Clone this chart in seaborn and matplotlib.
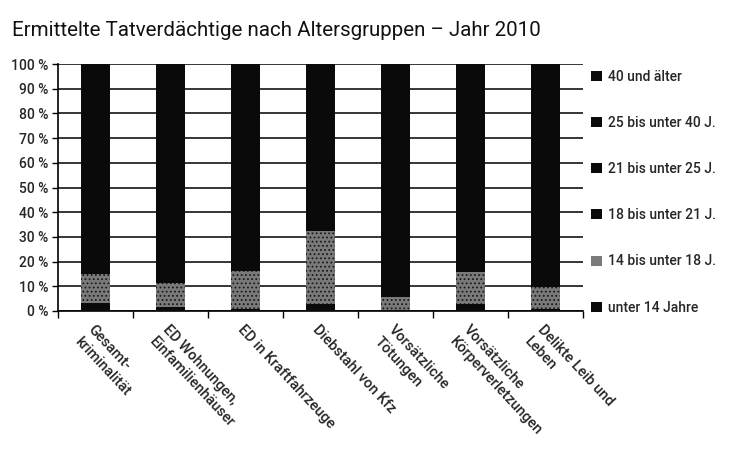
import matplotlib
matplotlib.use("Agg")
import matplotlib.pyplot as plt
import seaborn as sns
import pandas as pd
import numpy as np
from matplotlib.patches import Patch

categories = ["Gesamt-\nkriminalität", "ED Wohnungen,\nEinfamilienhäuser", "ED in Kraftfahrzeuge",
              "Diebstahl von Kfz", "Vorsätzliche\nTötungen", "Vorsätzliche\nKörperverletzungen",
              "Delikte Leib und\nLeben"]
series = ["unter 14 Jahre", "14 bis unter 18 J.", "18 bis unter 21 J.",
          "21 bis unter 25 J.", "25 bis unter 40 J.", "40 und älter"]
unter14 = [3.1, 1.8, 0.8, 2.8, 0.3, 2.7, 0.9]
j14_18 = [11.9, 9.4, 15.3, 29.5, 5.5, 13.0, 8.8]
j18_21 = [10.2, 13.0, 16.5, 19.0, 9.5, 14.5, 11.0]
j21_25 = [11.6, 14.5, 15.0, 14.5, 13.0, 13.8, 13.0]
j25_40 = [30.0, 36.5, 33.0, 24.0, 32.5, 31.0, 32.0]
ab40 = [33.2, 24.8, 19.4, 10.2, 39.2, 25.0, 34.3]
values = [unter14, j14_18, j18_21, j21_25, j25_40, ab40]
colors = ["#0a0a0a", "#7a7a7a", "#0a0a0a", "#0a0a0a", "#0a0a0a", "#0a0a0a"]
ytick_labels = ["0 %", "10 %", "20 %", "30 %", "40 %", "50 %", "60 %", "70 %", "80 %", "90 %", "100 %"]

sns.set_theme(style="white")
plt.rcParams["font.family"] = ["Roboto", "DejaVu Sans"]
plt.rcParams["hatch.color"] = "#1a1a1a"
plt.rcParams["hatch.linewidth"] = 0.8

fig = plt.figure(figsize=(7.29, 4.5), dpi=100)
ax = fig.add_axes([58/729, 1-311/450, 525/729, 247/450])

cum = np.cumsum(np.array(values), axis=0)
for i in range(len(series) - 1, -1, -1):
    d = pd.DataFrame({"cat": categories, "val": cum[i]})
    sns.barplot(data=d, x="cat", y="val", color=colors[i], width=0.39, ax=ax,
                saturation=1, linewidth=0, zorder=3)
# speckle texture for the 14-18 segment
n = len(categories)
for p in ax.patches[-2 * n:-n]:
    p.set_hatch("....")
    p.set_edgecolor("#1a1a1a")
    p.set_linewidth(0)

ax.set_ylim(0, 100)
ax.set_xlim(-0.5, n - 0.5)
ax.set_yticks(np.arange(0, 101, 10))
ax.set_yticklabels(ytick_labels, fontsize=10, fontweight="medium")
ax.yaxis.grid(True, color="black", linewidth=1.1, zorder=1)
ax.set_axisbelow(True)
ax.set_xlabel("")
ax.set_ylabel("")
for s in ["top", "right"]:
    ax.spines[s].set_visible(False)
for s in ["left", "bottom"]:
    ax.spines[s].set_color("black")
    ax.spines[s].set_linewidth(1.2)
ax.tick_params(axis="y", length=4, width=1, color="black", left=True, pad=3)
ax.set_xticks(np.arange(n))
ax.set_xticklabels([])
ax.set_xticks(np.arange(-0.5, n, 1), minor=True)
ax.tick_params(axis="x", which="major", length=0)
ax.tick_params(axis="x", which="minor", length=5, width=1, color="black", bottom=True)
for i, lab in enumerate(categories):
    ax.text(i + 0.0, -4.5, lab, rotation=-47, rotation_mode="anchor", ha="left", va="top",
            multialignment="left", fontsize=10.5, fontweight="medium", linespacing=1.4)

handles = [Patch(facecolor=colors[i], edgecolor="none", label=series[i],
                 hatch="...." if i == 1 else None) for i in range(len(series) - 1, -1, -1)]
leg = ax.legend(handles=handles, loc="upper left", bbox_to_anchor=(1.005, 1.0), frameon=False,
                handlelength=0.75, handleheight=0.75, handletextpad=0.45, labelspacing=2.32,
                fontsize=10, borderaxespad=0)
for t in leg.get_texts():
    t.set_fontweight("medium")

fig.text(12/729, 1-30/450, "Ermittelte Tatverdächtige nach Altersgruppen – Jahr 2010",
         fontsize=14.8, ha="left", va="center", color="#111111")

fig.savefig("out.png", dpi=100, facecolor="white")
